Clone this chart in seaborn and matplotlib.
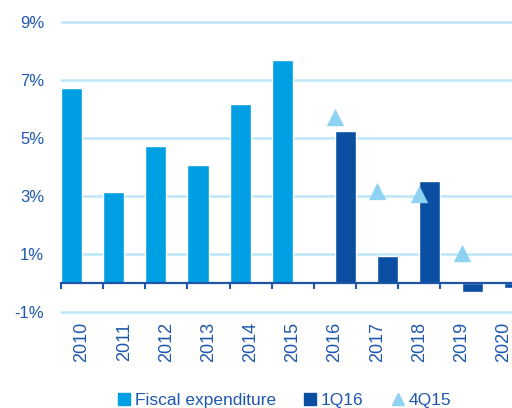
import numpy as np
import pandas as pd
import matplotlib.pyplot as plt
import seaborn as sns
from matplotlib.lines import Line2D
from matplotlib.ticker import FuncFormatter

years = ["2010", "2011", "2012", "2013", "2014", "2015",
         "2016", "2017", "2018", "2019", "2020"]

fiscal_years = ["2010", "2011", "2012", "2013", "2014", "2015"]
fiscal_vals = [6.72, 3.14, 4.73, 4.07, 6.18, 7.70]

q1_years = ["2016", "2017", "2018", "2019", "2020"]
q1_vals = [5.26, 0.94, 3.54, -0.29, -0.15]

q4_years = ["2016", "2017", "2018", "2019"]
q4_vals = [5.73, 3.18, 3.08, 1.03]

series_names = ["Fiscal expenditure", "1Q16", "4Q15"]
yticks = [-1, 1, 3, 5, 7, 9]

c_fiscal = "#009fe3"
c_q1 = "#0b4fa2"
c_q4 = "#8ed3f3"
c_grid = "#bde6f8"
c_text = "#1f58ad"
c_axis = "#1f55a8"

sns.set_theme(style="white")
plt.rcParams["font.family"] = ["Liberation Sans", "DejaVu Sans"]

bars = pd.concat([
    pd.DataFrame({"year": fiscal_years, "value": fiscal_vals, "series": series_names[0]}),
    pd.DataFrame({"year": q1_years, "value": q1_vals, "series": series_names[1]}),
])
tri = pd.DataFrame({"year": q4_years, "value": q4_vals})

fig = plt.figure(figsize=(5.12, 4.08), dpi=100)
ax = fig.add_axes([0.119, 0.2275, 0.906, 0.7255])

sns.barplot(data=bars, x="year", y="value", hue="series", order=years,
            hue_order=series_names[:2], palette=[c_fiscal, c_q1], saturation=1,
            width=1.0, dodge=True, legend=False, ax=ax, zorder=2)
sns.stripplot(data=tri, x="year", y="value", order=years, jitter=False,
              marker="^", size=12.5, color=c_q4, linewidth=0, ax=ax, zorder=3)

ax.set_xlim(-0.5, len(years) - 0.5)
ax.set_ylim(-1.1, 9.1)
ax.set_xlabel("")
ax.set_ylabel("")

for s in ["top", "right", "left"]:
    ax.spines[s].set_visible(False)
ax.spines["bottom"].set_position(("data", 0))
ax.spines["bottom"].set_color(c_axis)
ax.spines["bottom"].set_linewidth(1.6)
ax.spines["bottom"].set_zorder(4)

ax.set_yticks(yticks)
ax.yaxis.set_major_formatter(FuncFormatter(lambda v, p: f"{v:.0f}%"))
ax.yaxis.grid(True, color=c_grid, linewidth=1.8)
ax.xaxis.grid(False)
ax.set_axisbelow(True)
ax.tick_params(axis="y", length=0, pad=12, labelsize=12, labelcolor=c_text)

ax.set_xticks(range(len(years)))
ax.set_xticklabels(years, rotation=90, family=["Liberation Sans Narrow", "Liberation Sans"])
ax.set_xticks(np.arange(len(years) + 1) - 0.5, minor=True)
ax.tick_params(axis="x", which="major", length=0, pad=28, labelsize=13, labelcolor=c_text)
ax.tick_params(axis="x", which="minor", bottom=True, direction="out", length=4.5,
               width=1.5, color=c_axis)

handles = [
    Line2D([], [], marker="s", linestyle="none", markersize=9, color=c_fiscal),
    Line2D([], [], marker="s", linestyle="none", markersize=9, color=c_q1),
    Line2D([], [], marker="^", linestyle="none", markersize=9, color=c_q4),
]
fig.legend(handles, series_names, loc="center", bbox_to_anchor=(0.555, 0.018),
           ncol=3, frameon=False, fontsize=12.5, labelcolor=c_text,
           handlelength=0.8, handletextpad=0.2, columnspacing=1.6, borderpad=0)

fig.savefig("out.png", dpi=100)
